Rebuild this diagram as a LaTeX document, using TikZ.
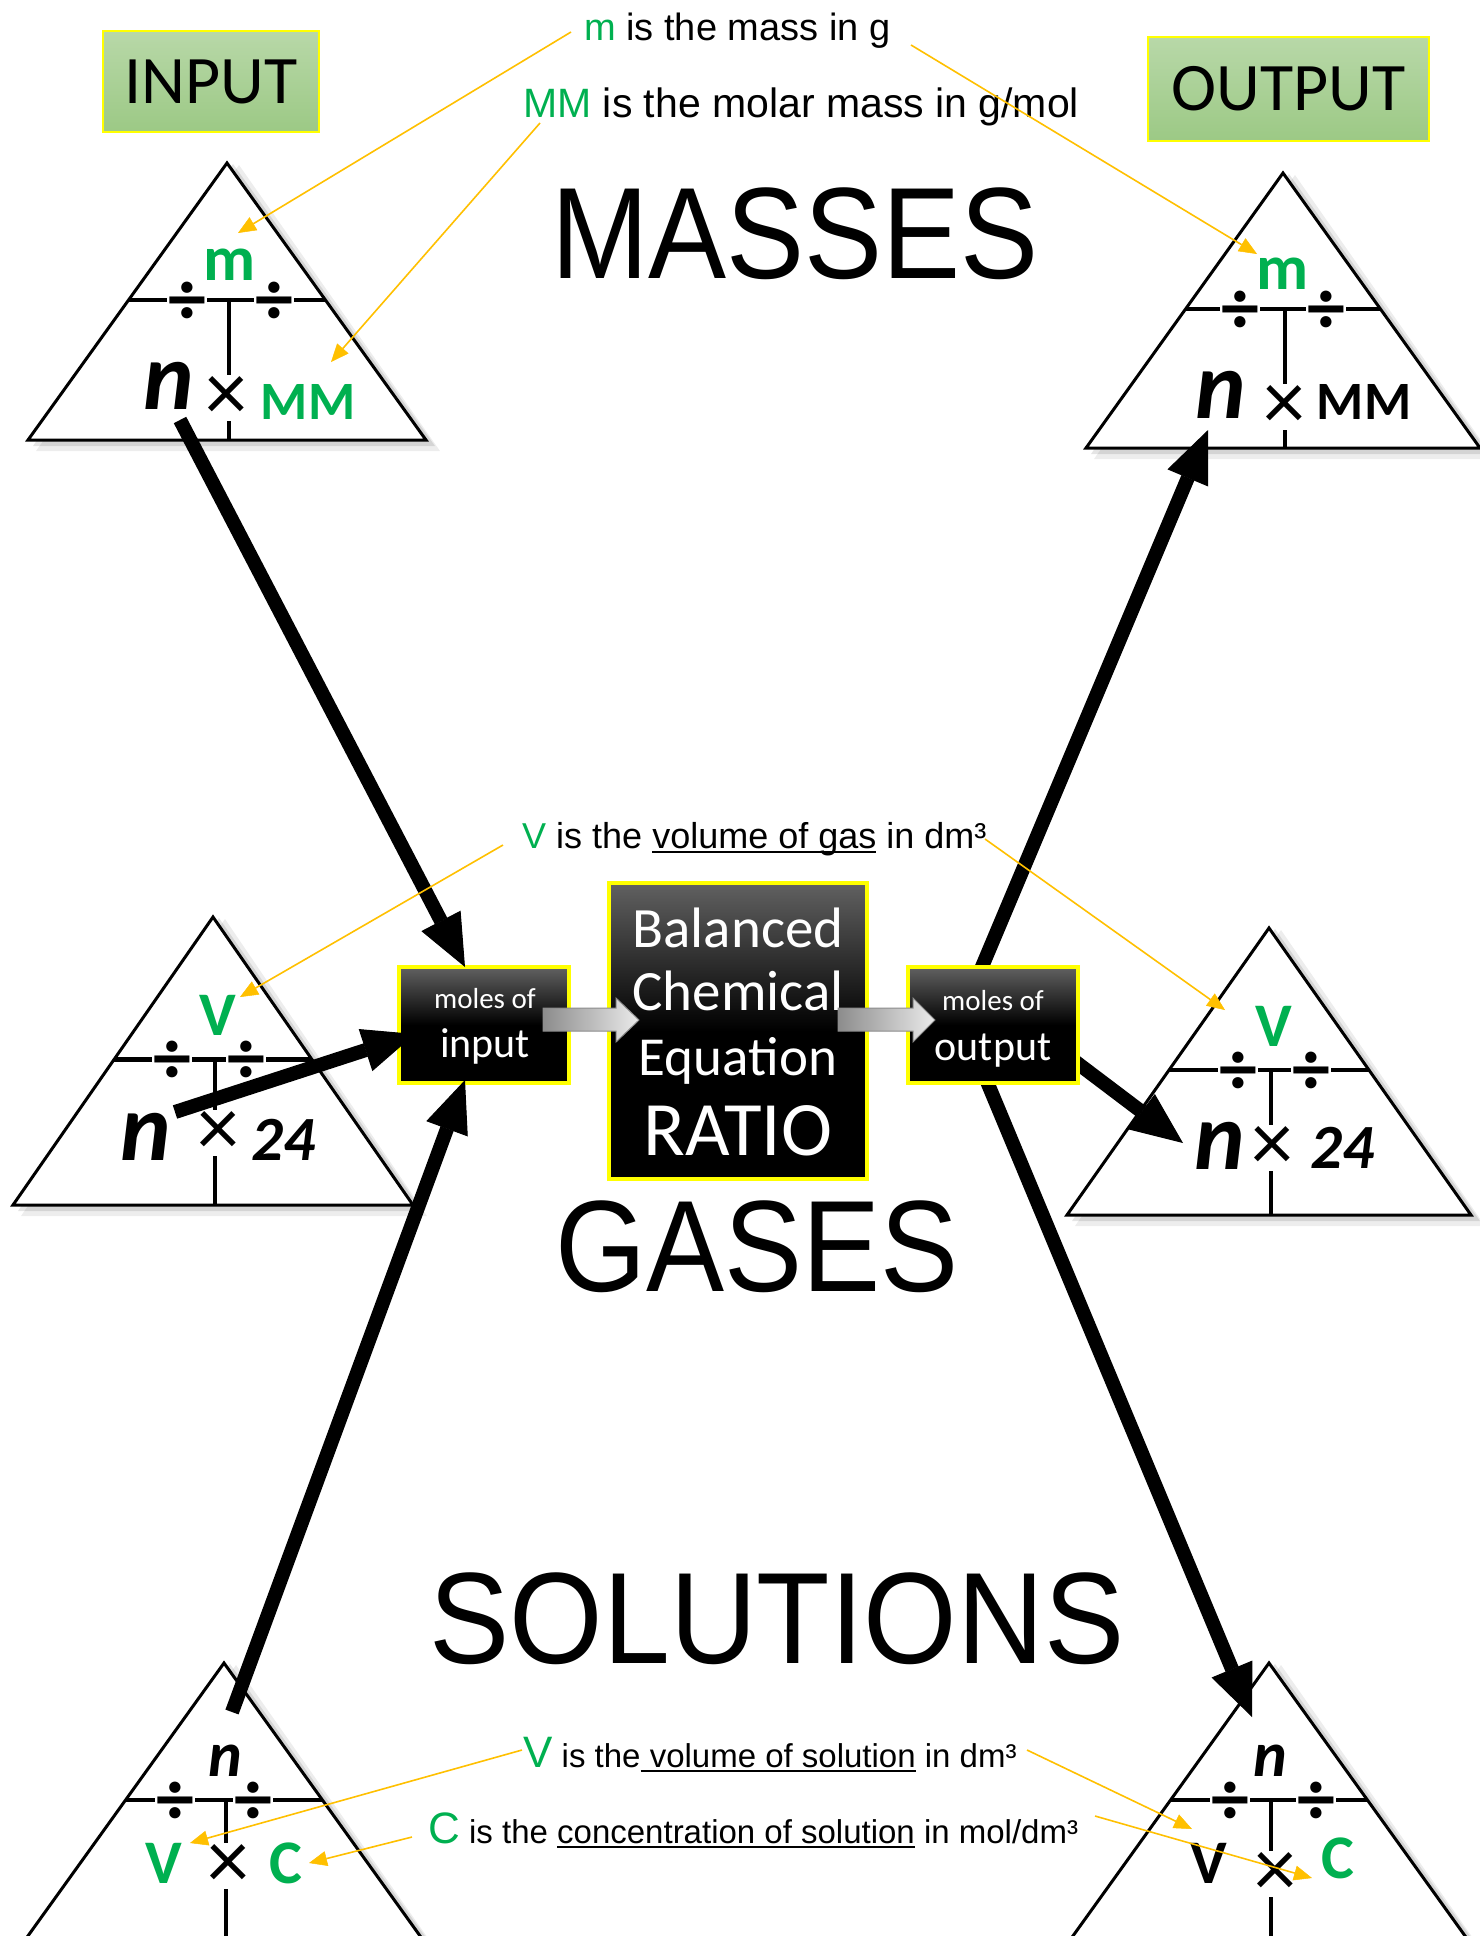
\documentclass[tikz,border=0pt]{standalone}
\usepackage{fontspec}
\setmainfont{Liberation Sans}
\newfontfamily\calfont{Carlito}
\usetikzlibrary{arrows.meta}
\definecolor{grn}{HTML}{00B050}
\definecolor{org}{HTML}{FFC000}
\definecolor{ylw}{HTML}{FFFF00}
\definecolor{boxtop}{HTML}{B8D8A8}
\definecolor{boxbot}{HTML}{9CC985}
\newcommand\fCB[1]{\calfont\bfseries\fontsize{#1}{#1}\selectfont}
\newcommand\fCBI[1]{\calfont\bfseries\itshape\fontsize{#1}{#1}\selectfont}
\newcommand\fCR[1]{\calfont\fontsize{#1}{#1}\selectfont}
\newcommand\fLS[1]{\fontsize{#1}{#1}\selectfont}
\newcommand\myul[1]{\setbox0\hbox{#1}\rlap{\rule[-5pt]{\wd0}{2.2pt}}\box0\relax}
\newcommand\formtri[6]{%
 \fill[black,opacity=.07] (#1+12,#2+2) -- (#1-#3+8,#2+#4+11) -- (#1+#3+14,#2+#4+11) -- cycle;
 \fill[black,opacity=.10] (#1+6,#2+1) -- (#1-#3+5,#2+#4+6) -- (#1+#3+9,#2+#4+6) -- cycle;
 \draw[line width=3pt,fill=white,line join=miter] (#1,#2) -- (#1-#3,#2+#4) -- (#1+#3,#2+#4) -- cycle;
 \draw[line width=4.5pt] ({#1-0.495*#3},{#2+0.495*#4}) -- ({#1+0.495*#3},{#2+0.495*#4});
 \draw[line width=4pt] (#1+2,{#2+0.495*#4}) -- (#1+2,#2+#4);
 \node[divs] at (#5,{#2+0.495*#4+24}) {÷};
 \node[divs] at (#6,{#2+0.495*#4+24}) {÷};
}
\begin{document}
\begin{tikzpicture}[x=1pt,y=-1pt,
 divs/.style={font=\fCB{76},fill=white,inner xsep=1.5pt,inner ysep=0pt,anchor=base},
 xs/.style={font=\fCR{84},fill=white,inner sep=1pt,anchor=base},
 lbl/.style={inner sep=0pt},
 greenbox/.style={draw=ylw,line width=2pt,top color=boxtop,bottom color=boxbot,font=\fCR{68},inner sep=0pt},
 blackbox/.style={draw=ylw,line width=4pt,top color=black!62,bottom color=black,middle color=black,inner sep=0pt},
 wt/.style={text=white,inner sep=0pt,anchor=base},
 ann/.style={anchor=base west,inner sep=0pt},
 bigarrow/.style={line width=14pt,black,-{Triangle[length=52pt,width=44pt,line width=1pt]}},
 oarrow/.style={line width=1.6pt,org,-{Triangle[length=18pt,width=15pt,line width=0.5pt]}},
 grayarrow/.style={left color=black!45,right color=black!8,draw=black!45,line width=1pt},
 title/.style={anchor=base,font=\fLS{130},inner sep=0pt}]
\fill[white] (0,0) rectangle (1480,1936);
\useasboundingbox (0,0) rectangle (1480,1936);

% formula triangles
\formtri{227}{163}{199}{277}{187}{274}
\formtri{1283}{173}{197}{275}{1240}{1326}
\formtri{213}{917}{200}{288}{172}{246}
\formtri{1269}{928}{202}{287}{1238}{1311}
\formtri{224}{1663}{199}{277}{175}{253}
\formtri{1269}{1663}{199}{277}{1230}{1316}

% top-left labels
\node[lbl,text=grn,font=\fCB{64}] (mTL) at (230,265) {m};
\node[lbl,font=\fCBI{96}] (nTL) at (169,386) {n};
\node[xs] (xTL) at (226,420) {×};
\node[lbl,text=grn,font=\fCB{54}] (mmTL) at (308,402) {MM};
% top-right labels
\node[lbl,text=grn,font=\fCB{64}] (mTR) at (1283,274) {m};
\node[lbl,font=\fCBI{96}] (nTR) at (1221,395) {n};
\node[xs] (xTR) at (1284,429) {×};
\node[lbl,font=\fCB{54}] (mmTR) at (1364,402) {MM};
% middle-left labels
\node[lbl,text=grn,font=\fCB{62}] (vML) at (218,1015) {V};
\node[lbl,font=\fCBI{96}] (nML) at (146,1137) {n};
\node[xs] (xML) at (218,1155) {×};
\node[lbl,font=\fCBI{63}] (tML) at (283,1140) {24};
% middle-right labels
\node[lbl,text=grn,font=\fCB{62}] (vMR) at (1274,1026) {V};
\node[lbl,font=\fCBI{96}] (nMR) at (1220,1146) {n};
\node[xs] (xMR) at (1272,1170) {×};
\node[lbl,font=\fCBI{63}] (tMR) at (1342,1148) {24};
% bottom-left labels
\node[lbl,font=\fCBI{64}] (nBL) at (225,1761) {n};
\node[lbl,text=grn,font=\fCB{62}] (vBL) at (164,1863) {V};
\node[xs] (xBL) at (228,1888) {×};
\node[lbl,text=grn,font=\fCB{62}] (cBL) at (286,1863) {C};
% bottom-right labels
\node[lbl,font=\fCBI{64}] (nBR) at (1270,1761) {n};
\node[lbl,font=\fCB{62}] (vBR) at (1209,1863) {V};
\node[xs] (xBR) at (1275,1896) {×};
\node[lbl,text=grn,font=\fCB{62}] (cBR) at (1338,1858) {C};

% titles
\node[title] (masses) at (795,278) {\scalebox{0.9}[1]{MASSES}};
\node[title] (gases) at (757,1291) {\scalebox{0.9}[1]{GASES}};
\node[title] (solutions) at (777,1663) {\scalebox{0.925}[1]{SOLUTIONS}};

% input / output labels
\node[greenbox,minimum width=216pt,minimum height=101pt] (inp) at (211,81.5) {INPUT};
\node[greenbox,minimum width=281pt,minimum height=104pt] (outp) at (1288.5,89) {OUTPUT};

% arrows leaving the output box (behind it)
\coordinate (b4s) at (968,1000);
\coordinate (b4e) at (1208,430);
\coordinate (b5s) at (978,1060);
\coordinate (b5e) at (1252,1717);
\coordinate (b6s) at (1060,1050);
\coordinate (b6e) at (1183,1143);
\draw[bigarrow] (b4s) -- (b4e);
\draw[bigarrow] (b5s) -- (b5e);
\draw[bigarrow] (b6s) -- (b6e);

% central boxes
\node[blackbox,minimum width=170pt,minimum height=116pt] (inbox) at (484,1025) {};
\node[blackbox,minimum width=170pt,minimum height=116pt] (outbox) at (992.5,1025) {};
\node[blackbox,minimum width=258pt,minimum height=296pt] (ratio) at (738,1031) {};
\node[wt,font=\fCR{29}] (inl1) at (485,1008) {moles of};
\node[wt,font=\fCR{42}] (inl2) at (485,1057) {input};
\node[wt,font=\fCR{29}] (outl1) at (993,1010) {moles of};
\node[wt,font=\fCR{42}] (outl2) at (993,1060) {output};
\node[wt,font=\fCR{57}] (r1) at (738,947) {Balanced};
\node[wt,font=\fCR{57}] (r2) at (738,1010) {Chemical};
\node[wt,font=\fCR{55}] (r3) at (738,1075) {Equation};
\node[wt,font=\fCR{77}] (r4) at (738,1155) {RATIO};

% grey block arrows
\path[grayarrow] (543,1008) -- (616,1008) -- (616,998) -- (639,1020) -- (616,1042) -- (616,1031) -- (543,1031) -- cycle;
\path[grayarrow] (838,1008) -- (913,1008) -- (913,998) -- (935,1020) -- (913,1042) -- (913,1031) -- (838,1031) -- cycle;

% arrows into the input box
\coordinate (b1s) at (180,420);
\coordinate (b1e) at (465,967);
\coordinate (b2s) at (175,1112);
\coordinate (b2e) at (415,1034);
\coordinate (b3s) at (232,1712);
\coordinate (b3e) at (465,1080);
\draw[bigarrow] (b1s) -- (b1e);
\draw[bigarrow] (b2s) -- (b2e);
\draw[bigarrow] (b3s) -- (b3e);

% annotations
\node[ann,font=\fLS{38}] (tm) at (584,40) {\textcolor{grn}{m} is the mass in g};
\node[ann,font=\fLS{41}] (tmm) at (523,117) {\textcolor{grn}{MM} is the molar mass in g/mol};
\node[ann,font=\fLS{36}] (tvg) at (522,848) {\textcolor{grn}{V} is the \myul{volume of gas} in dm³};
\node[ann,font=\fLS{33}] (tvs) at (523,1767) {{\fLS{44}\textcolor{grn}{V}} is the\myul{ volume of solution} in dm³};
\node[ann,font=\fLS{33}] (tcs) at (428,1843) {{\fLS{44}\textcolor{grn}{C}} is the \myul{concentration of solution} in mol/dm³};

% orange pointers
\coordinate (o1s) at (571,32);   \coordinate (o1e) at (238,233);
\coordinate (o2s) at (540,123);  \coordinate (o2e) at (331,362);
\coordinate (o3s) at (911,45);   \coordinate (o3e) at (1257,254);
\coordinate (o4s) at (503,845);  \coordinate (o4e) at (240,997);
\coordinate (o5s) at (985,839);  \coordinate (o5e) at (1225,1010);
\coordinate (o6s) at (522,1750); \coordinate (o6e) at (190,1843);
\coordinate (o7s) at (412,1837); \coordinate (o7e) at (309,1863);
\coordinate (o8s) at (1027,1750);\coordinate (o8e) at (1192,1829);
\coordinate (o9s) at (1095,1816);\coordinate (o9e) at (1312,1878);
\foreach \i in {1,...,9} {\draw[oarrow] (o\i s) -- (o\i e);}
\end{tikzpicture}
\end{document}
